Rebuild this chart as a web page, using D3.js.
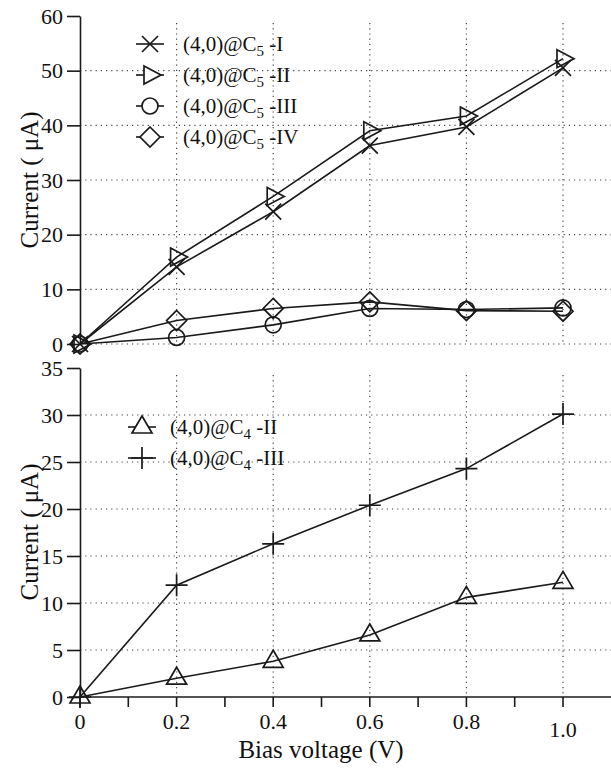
<!DOCTYPE html>
<html>
<head>
<meta charset="utf-8">
<script src="https://cdn.jsdelivr.net/npm/d3@7/dist/d3.min.js"></script>
<style>
  body { margin: 0; background: #fff; }
</style>
</head>
<body>
<svg></svg>
<script>
// 数据
let voltages = [0, 0.2, 0.4, 0.6, 0.8, 1.0]
let c5_I   = [0, 14.1, 24.2, 36.3, 39.7, 50.5]
let c5_II  = [0, 15.9, 27.0, 39.0, 41.7, 52.2]
let c5_III = [0, 1.2, 3.5, 6.5, 6.3, 6.6]
let c5_IV  = [0, 4.3, 6.5, 7.7, 6.1, 6.0]
let c4_II  = [0, 2.0, 3.8, 6.6, 10.6, 12.2]
let c4_III = [0, 11.9, 16.3, 20.4, 24.3, 30.1]
let topTicks = [0, 10, 20, 30, 40, 50, 60]
let botTicks = [0, 5, 10, 15, 20, 25, 30, 35]
let xTicks = [0, 0.1, 0.2, 0.3, 0.4, 0.5, 0.6, 0.7, 0.8, 0.9, 1.0]
let xLabels = [0, 0.2, 0.4, 0.6, 0.8, 1.0]

let width = 611
let height = 769
let font = "'Liberation Serif'"
let svg = d3.select('svg').attr('width', width).attr('height', height)
let ink = '#1a1a1a'

let x = d3.scaleLinear().domain([0, 1]).range([80, 563])
let yTop = d3.scaleLinear().domain([0, 60]).range([344, 16])
let yBot = d3.scaleLinear().domain([0, 35]).range([697, 368])

// 标记形状
function marker(type, cx, cy) {
    let p = d3.path()
    if (type === 'x') {
        let s = 8
        p.moveTo(cx - s, cy - s); p.lineTo(cx + s, cy + s)
        p.moveTo(cx - s, cy + s); p.lineTo(cx + s, cy - s)
    } else if (type === 'right') {
        p.moveTo(cx - 6, cy - 9); p.lineTo(cx + 11, cy); p.lineTo(cx - 6, cy + 9); p.closePath()
    } else if (type === 'circle') {
        p.moveTo(cx + 8, cy); p.arc(cx, cy, 8, 0, Math.PI * 2)
    } else if (type === 'diamond') {
        p.moveTo(cx, cy - 10); p.lineTo(cx + 10, cy); p.lineTo(cx, cy + 10); p.lineTo(cx - 10, cy); p.closePath()
    } else if (type === 'plus') {
        p.moveTo(cx - 11, cy); p.lineTo(cx + 11, cy)
        p.moveTo(cx, cy - 11); p.lineTo(cx, cy + 11)
    } else if (type === 'up') {
        p.moveTo(cx, cy - 11); p.lineTo(cx + 10, cy + 6); p.lineTo(cx - 10, cy + 6); p.closePath()
    }
    return p.toString()
}

// 网格
function grid(y, hVals, vTop) {
    let g = svg.append('g')
        .attr('stroke', '#444').attr('stroke-width', 1.2).attr('stroke-dasharray', '1.2,4')
    g.selectAll('.h').data(hVals).enter().append('line')
        .attr('x1', x(0)).attr('x2', width)
        .attr('y1', d => y(d)).attr('y2', d => y(d))
    g.selectAll('.v').data(xLabels.slice(1)).enter().append('line')
        .attr('x1', d => x(d)).attr('x2', d => x(d))
        .attr('y1', vTop).attr('y2', y(0))
}
grid(yTop, [0, 10, 20, 30, 40, 50], 23)
grid(yBot, [5, 10, 15, 20, 25, 30], 375)

// 纵轴
function yAxis(y, ticks) {
    let g = svg.append('g')
        .attr('transform', 'translate(' + x(0) + ',0)')
        .call(d3.axisLeft(y).tickValues(ticks).tickSize(13).tickSizeOuter(0).tickPadding(4))
    g.attr('font-family', null)
    g.select('.domain').attr('stroke', ink).attr('stroke-width', 1.6)
    g.selectAll('.tick line').attr('stroke', ink).attr('stroke-width', 1.6)
    g.selectAll('.tick text').attr('fill', '#111')
        .style('font-family', font).style('font-size', '22px')
}
yAxis(yTop, topTicks)
yAxis(yBot, botTicks)

// 横轴
svg.append('line').attr('x1', x(0)).attr('x2', width)
    .attr('y1', yBot(0)).attr('y2', yBot(0))
    .attr('stroke', ink).attr('stroke-width', 1.6)
svg.selectAll('.xt').data(xTicks).enter().append('line')
    .attr('x1', d => x(d)).attr('x2', d => x(d))
    .attr('y1', yBot(0)).attr('y2', yBot(0) + 10)
    .attr('stroke', ink).attr('stroke-width', 1.6)
svg.selectAll('.xl').data(xLabels).enter().append('text')
    .attr('x', d => x(d))
    .attr('y', d => yBot(0) + (d === 1 ? 40 : 32))
    .attr('text-anchor', 'middle').attr('fill', '#111')
    .style('font-family', font).style('font-size', '22px')
    .text(d => d === 0 ? '0' : d3.format('.1f')(d))

// 轴标题
function title(t, tr) {
    svg.append('text').attr('transform', tr)
        .attr('text-anchor', 'middle').attr('fill', '#111')
        .style('font-family', font).style('font-size', '25px')
        .text(t)
}
title('Bias voltage (V)', 'translate(321,758)')
title('Current ( μA)', 'translate(38,180) rotate(-90)')
title('Current ( μA)', 'translate(38,532) rotate(-90)')

// 曲线
let series = [
    {vals: c5_I, y: yTop, m: 'x', sub: '5', tail: ' -I'},
    {vals: c5_II, y: yTop, m: 'right', sub: '5', tail: ' -II'},
    {vals: c5_III, y: yTop, m: 'circle', sub: '5', tail: ' -III'},
    {vals: c5_IV, y: yTop, m: 'diamond', sub: '5', tail: ' -IV'},
    {vals: c4_II, y: yBot, m: 'up', sub: '4', tail: ' -II'},
    {vals: c4_III, y: yBot, m: 'plus', sub: '4', tail: ' -III'}
]
series.forEach(s => {
    let line = d3.line().x((v, i) => x(voltages[i])).y(v => s.y(v))
    svg.append('path').datum(s.vals)
        .attr('fill', 'none').attr('stroke', ink).attr('stroke-width', 1.6)
        .attr('d', line)
    svg.append('g').selectAll('path').data(s.vals).enter().append('path')
        .attr('d', (v, i) => marker(s.m, x(voltages[i]), s.y(v)))
        .attr('fill', 'none').attr('stroke', ink).attr('stroke-width', 1.7)
})

// 图例
function legend(list, mx, tx, y0, step) {
    list.forEach((s, i) => {
        let cy = y0 + i * step
        svg.append('line').attr('x1', mx - 14).attr('x2', mx + 14)
            .attr('y1', cy).attr('y2', cy).attr('stroke', ink).attr('stroke-width', 1.6)
        svg.append('path').attr('d', marker(s.m, mx, cy))
            .attr('fill', '#fff').attr('stroke', ink).attr('stroke-width', 1.7)
        let t = svg.append('text').attr('x', tx).attr('y', cy + 7).attr('fill', '#111')
            .style('font-family', font).style('font-size', '21px')
        t.append('tspan').text('(4,0)@C')
        t.append('tspan').attr('dy', 5).style('font-size', '15px').text(s.sub)
        t.append('tspan').attr('dy', -5).text(s.tail)
    })
}
legend(series.slice(0, 4), 150, 183, 44, 31)
legend(series.slice(4), 142, 170, 427, 31)
</script>
</body>
</html>
